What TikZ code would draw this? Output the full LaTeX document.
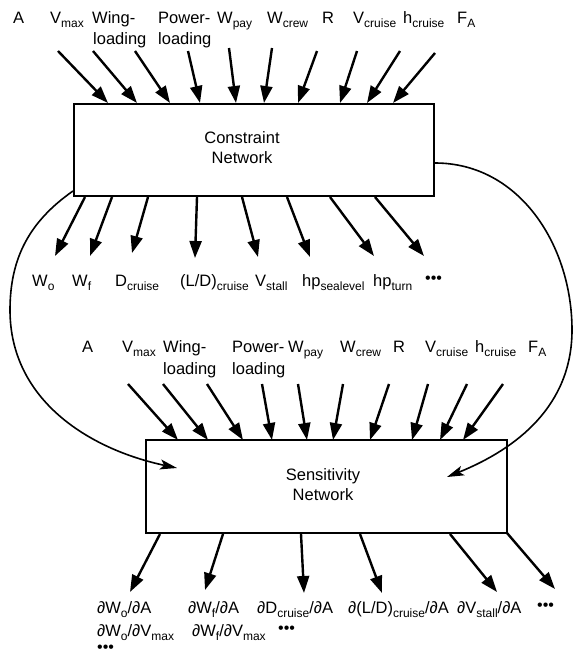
\documentclass[tikz,border=0pt]{standalone}
\usepackage{fontspec}
\setmainfont{Liberation Sans}
\usetikzlibrary{arrows.meta}
% lowered subscript in a smaller size
\newcommand\lo[1]{\raisebox{-4.5pt}{\fontsize{12}{12}\selectfont #1}}
\newcommand\more{{\fontsize{16}{16}\selectfont •••}}
\begin{document}
\begin{tikzpicture}[x=1pt,y=1pt,
  lab/.style={anchor=base west,inner sep=0pt,font=\fontsize{16.5}{19}\selectfont},
  mid/.style={anchor=base,inner sep=0pt,font=\fontsize{16.5}{19}\selectfont},
  box/.style={draw,line width=2pt,inner sep=0pt},
  feed/.style={line width=2.4pt,-{Triangle[length=17pt,width=12pt]}},
  loop/.style={line width=1.6pt,-{Stealth[length=17pt,width=10pt,inset=4pt]}}]
\useasboundingbox (0,0) rectangle (575,-656);

% the two networks
\node[box,minimum width=360,minimum height=92] (cbox) at (254,-150) {};
\node[mid] (ct1) at (242,-143) {Constraint};
\node[mid] (ct2) at (242,-163) {Network};
\node[box,minimum width=361,minimum height=93] (sbox) at (326.5,-486.5) {};
\node[mid] (st1) at (323,-480) {Sensitivity};
\node[mid] (st2) at (323,-500) {Network};

% inputs of the constraint network
\node[lab] (a1) at (13,-23) {A};
\node[lab] (a2) at (50,-23) {V\lo{max}};
\node[lab] (a3) at (92,-23) {Wing-};
\node[lab] (a3b) at (93,-44) {loading};
\node[lab] (a4) at (158,-23) {Power-};
\node[lab] (a4b) at (158,-44) {loading};
\node[lab] (a5) at (217,-23) {W\lo{pay}};
\node[lab] (a6) at (267,-23) {W\lo{crew}};
\node[lab] (a7) at (322,-23) {R};
\node[lab] (a8) at (353,-23) {V\lo{cruise}};
\node[lab] (a9) at (403,-23) {h\lo{cruise}};
\node[lab] (a10) at (457,-23) {F\lo{A}};

\foreach \i/\a/\b/\c/\d in {1/58/51/108/103, 2/93/51/137/103, 3/135/51/170/103,
  4/188/51/200/103, 5/229/48/236/103, 6/272/48/264/103, 7/317/51/298/103,
  8/357/51/340/103, 9/400/51/367/103, 10/435/53/393/103}{
  \coordinate (ti\i) at (\a,-\b);
  \coordinate (hi\i) at (\c,-\d);
  \draw[feed] (ti\i) -- (hi\i);
}

% outputs of the constraint network
\node[lab] (o1) at (32,-286) {W\lo{o}};
\node[lab] (o2) at (72,-286) {W\lo{f}};
\node[lab] (o3) at (115,-286) {D\lo{cruise}};
\node[lab] (o4) at (180,-286) {(L/D)\lo{cruise}};
\node[lab] (o5) at (255,-286) {V\lo{stall}};
\node[lab] (o6) at (302,-286) {hp\lo{sealevel}};
\node[lab] (o7) at (373,-286) {hp\lo{turn}};
\node[lab] (o8) at (425,-283) {\more};

\foreach \i/\a/\b/\c/\d in {1/85/197/55/256, 2/112/197/90/256, 3/148/197/132/253,
  4/197/197/195/258, 5/242/197/258/257, 6/287/197/310/257, 7/330/197/374/256,
  8/375/197/424/256}{
  \coordinate (to\i) at (\a,-\b);
  \coordinate (ho\i) at (\c,-\d);
  \draw[feed] (to\i) -- (ho\i);
}

% inputs of the sensitivity network
\node[lab] (b1) at (82,-352) {A};
\node[lab] (b2) at (122,-352) {V\lo{max}};
\node[lab] (b3) at (163,-352) {Wing-};
\node[lab] (b3b) at (163,-374) {loading};
\node[lab] (b4) at (232,-352) {Power-};
\node[lab] (b4b) at (232,-374) {loading};
\node[lab] (b5) at (288,-352) {W\lo{pay}};
\node[lab] (b6) at (340,-352) {W\lo{crew}};
\node[lab] (b7) at (393,-352) {R};
\node[lab] (b8) at (425,-352) {V\lo{cruise}};
\node[lab] (b9) at (475,-352) {h\lo{cruise}};
\node[lab] (b10) at (528,-352) {F\lo{A}};

\foreach \i/\a/\b/\c/\d in {1/128/384/178/440, 2/163/384/208/440, 3/207/384/243/440,
  4/262/384/272/440, 5/298/384/307/440, 6/343/384/333/440, 7/389/384/370/440,
  8/428/384/412/440, 9/467/384/440/440, 10/503/384/463/440}{
  \coordinate (tj\i) at (\a,-\b);
  \coordinate (hj\i) at (\c,-\d);
  \draw[feed] (tj\i) -- (hj\i);
}

% outputs of the sensitivity network
\node[lab] (d1) at (97,-613) {∂W\lo{o}/∂A};
\node[lab] (d2) at (188,-613) {∂W\lo{f}/∂A};
\node[lab] (d3) at (257,-613) {∂D\lo{cruise}/∂A};
\node[lab] (d4) at (348,-613) {∂(L/D)\lo{cruise}/∂A};
\node[lab] (d5) at (457,-613) {∂V\lo{stall}/∂A};
\node[lab] (d6) at (537,-610) {\more};
\node[lab] (d7) at (97,-636) {∂W\lo{o}/∂V\lo{max}};
\node[lab] (d8) at (192,-636) {∂W\lo{f}/∂V\lo{max}};
\node[lab] (d9) at (278,-633) {\more};
\node[lab] (d10) at (97,-652) {\more};

\foreach \i/\a/\b/\c/\d in {1/160/534/130/592, 2/223/534/205/590, 3/301/534/304/593,
  4/360/534/382/593, 5/450/534/497/592, 6/507/533/555/589}{
  \coordinate (ts\i) at (\a,-\b);
  \coordinate (hs\i) at (\c,-\d);
  \draw[feed] (ts\i) -- (hs\i);
}

% results of the constraint network fed back to the sensitivity network
\coordinate (lend) at (177,-468);
\coordinate (rend) at (447,-477);
\draw[loop] ([yshift=6pt]cbox.south west) to[out=215,in=90] (10,-310)
  to[out=270,in=168] (lend);
\draw[loop] ([yshift=-13pt]cbox.east) to[out=0,in=90] (572,-330)
  to[out=270,in=22] (rend);
\end{tikzpicture}
\end{document}
